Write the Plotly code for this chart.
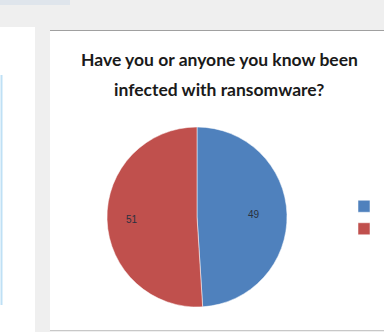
import math
import plotly.graph_objects as go

labels = ["Yes", "No"]
values = [49, 51]
colors = ["#4F81BD", "#C0504D"]
title_lines = ["Have you or anyone you know been", "infected with ransomware?"]

W, H = 384, 332

def px(x):
    return x / W

def py(y):
    return 1 - y / H

cx, cy, r = 197, 217, 90

fig = go.Figure()
fig.add_trace(go.Pie(
    labels=labels,
    values=values,
    marker=dict(colors=colors, line=dict(color="#ffffff", width=0.5)),
    sort=False,
    direction="clockwise",
    rotation=0,
    textinfo="none",
    hoverinfo="label+value",
    domain=dict(x=[px(cx - r), px(cx + r)], y=[py(cy + r), py(cy - r)]),
    showlegend=True,
))

# value labels placed near the outer edge of each slice (computed from the data)
total = sum(values)
start = 0.0
annotations = []
for v in values:
    mid = start + v / total * 360 / 2
    start += v / total * 360
    ang = math.radians(mid)
    lx = cx + 0.72 * r * math.sin(ang)
    ly = cy - 0.72 * r * math.cos(ang)
    annotations.append(dict(
        x=px(lx), y=py(ly), xref="paper", yref="paper", text=str(v),
        showarrow=False, font=dict(family="Liberation Sans", size=10, color="#2a3140"),
    ))

for i, line in enumerate(title_lines):
    annotations.append(dict(
        x=px(219), y=py(59 + 30 * i), xref="paper", yref="paper", text="<b>" + line + "</b>",
        showarrow=False, font=dict(family="Lato", size=17.5, color="#1a1a1a"),
        xanchor="center", yanchor="middle",
    ))

shapes = [
    # top-left tab
    dict(type="rect", xref="paper", yref="paper", x0=px(0), x1=px(70), y0=py(5), y1=py(0),
         fillcolor="#dfe5ec", line=dict(width=0), layer="below"),
    # left white panel
    dict(type="rect", xref="paper", yref="paper", x0=px(0), x1=px(35), y0=py(332), y1=py(27),
         fillcolor="#ffffff", line=dict(width=0), layer="below"),
    dict(type="line", xref="paper", yref="paper", x0=px(1.5), x1=px(1.5), y0=py(305), y1=py(75),
         line=dict(color="#bfe0f5", width=2), layer="below"),
    # chart panel
    dict(type="rect", xref="paper", yref="paper", x0=px(50), x1=px(390), y0=py(330), y1=py(30),
         fillcolor="#ffffff", line=dict(width=0), layer="below"),
    dict(type="line", xref="paper", yref="paper", x0=px(50), x1=px(384), y0=py(30.5), y1=py(30.5),
         line=dict(color="#a0a0a0", width=1), layer="below"),
    dict(type="line", xref="paper", yref="paper", x0=px(50), x1=px(384), y0=py(330.5), y1=py(330.5),
         line=dict(color="#c8c8c8", width=1), layer="below"),
]

fig.update_layout(
    width=W, height=H,
    margin=dict(l=0, r=0, t=0, b=0, autoexpand=False),
    paper_bgcolor="#efefef",
    plot_bgcolor="#efefef",
    annotations=annotations,
    shapes=shapes,
    legend=dict(x=px(344), y=py(190), xanchor="left", yanchor="top",
                bgcolor="rgba(0,0,0,0)", font=dict(family="Lato", size=15, color="#333333"),
                itemwidth=30),
)

fig.write_html("out.html")
